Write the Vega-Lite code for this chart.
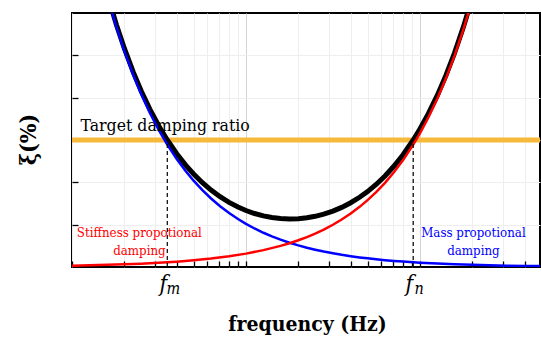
{
  "$schema": "https://vega.github.io/schema/vega-lite/v6.json",
  "width": 468,
  "height": 254,
  "autosize": "none",
  "padding": {"left": 72, "top": 13, "right": 1, "bottom": 76},
  "background": "white",
  "config": {
    "view": {"stroke": "black", "strokeWidth": 2},
    "axis": {"domain": false, "labels": false, "grid": true, "gridColor": "#eeeeee", "gridWidth": 1, "tickColor": "black", "tickWidth": 1.3, "tickSize": -6, "titleFont": "DejaVu Serif Condensed", "titleFontWeight": "bold", "titleColor": "black"}
  },
  "datasets": {
    "total": [
      {"f": 1.6, "xi": 6.424}, {"f": 1.8, "xi": 5.722}, {"f": 2, "xi": 5.162}, {"f": 2.25, "xi": 4.603},
      {"f": 2.5, "xi": 4.158}, {"f": 2.8, "xi": 3.730}, {"f": 3.15, "xi": 3.336}, {"f": 3.53, "xi": 3.0},
      {"f": 4, "xi": 2.675}, {"f": 4.5, "xi": 2.408}, {"f": 5, "xi": 2.197}, {"f": 5.6, "xi": 1.998},
      {"f": 6.3, "xi": 1.818}, {"f": 7.1, "xi": 1.660}, {"f": 8, "xi": 1.527}, {"f": 9, "xi": 1.417},
      {"f": 10, "xi": 1.335}, {"f": 11.2, "xi": 1.264}, {"f": 12.6, "xi": 1.207}, {"f": 14.1, "xi": 1.168},
      {"f": 15.8, "xi": 1.144}, {"f": 17.8, "xi": 1.135}, {"f": 20, "xi": 1.141}, {"f": 22.4, "xi": 1.162},
      {"f": 25, "xi": 1.197}, {"f": 28, "xi": 1.248}, {"f": 31.6, "xi": 1.320}, {"f": 35.5, "xi": 1.408},
      {"f": 40, "xi": 1.518}, {"f": 45, "xi": 1.647}, {"f": 50, "xi": 1.782}, {"f": 56, "xi": 1.950},
      {"f": 63, "xi": 2.151}, {"f": 71, "xi": 2.385}, {"f": 80, "xi": 2.653}, {"f": 91.5, "xi": 3.0},
      {"f": 100, "xi": 3.259}, {"f": 112, "xi": 3.627}, {"f": 126, "xi": 4.059}, {"f": 141, "xi": 4.524},
      {"f": 158, "xi": 5.053}, {"f": 178, "xi": 5.677}, {"f": 200, "xi": 6.365}
    ],
    "mass": [
      {"f": 1.6, "xi": 6.373}, {"f": 1.8, "xi": 5.665}, {"f": 2, "xi": 5.099}, {"f": 2.25, "xi": 4.532},
      {"f": 2.5, "xi": 4.079}, {"f": 2.8, "xi": 3.642}, {"f": 3.15, "xi": 3.237}, {"f": 3.53, "xi": 2.889},
      {"f": 4, "xi": 2.549}, {"f": 4.5, "xi": 2.266}, {"f": 5, "xi": 2.039}, {"f": 5.6, "xi": 1.821},
      {"f": 6.3, "xi": 1.619}, {"f": 7.1, "xi": 1.436}, {"f": 8, "xi": 1.275}, {"f": 9, "xi": 1.133},
      {"f": 10, "xi": 1.020}, {"f": 11.2, "xi": 0.910}, {"f": 12.6, "xi": 0.809}, {"f": 14.1, "xi": 0.723},
      {"f": 15.8, "xi": 0.645}, {"f": 17.8, "xi": 0.573}, {"f": 20, "xi": 0.510}, {"f": 22.4, "xi": 0.455},
      {"f": 25, "xi": 0.408}, {"f": 28, "xi": 0.364}, {"f": 31.6, "xi": 0.323}, {"f": 35.5, "xi": 0.287},
      {"f": 40, "xi": 0.255}, {"f": 45, "xi": 0.227}, {"f": 50, "xi": 0.204}, {"f": 56, "xi": 0.182},
      {"f": 63, "xi": 0.162}, {"f": 71, "xi": 0.144}, {"f": 80, "xi": 0.128}, {"f": 91.5, "xi": 0.111},
      {"f": 100, "xi": 0.102}, {"f": 126, "xi": 0.081}, {"f": 158, "xi": 0.065}, {"f": 200, "xi": 0.051},
      {"f": 250, "xi": 0.041}, {"f": 316, "xi": 0.032}, {"f": 400, "xi": 0.026}, {"f": 490, "xi": 0.021}
    ],
    "stiff": [
      {"f": 1, "xi": 0.032}, {"f": 1.26, "xi": 0.040}, {"f": 1.6, "xi": 0.051}, {"f": 2, "xi": 0.063},
      {"f": 2.5, "xi": 0.079}, {"f": 3.15, "xi": 0.099}, {"f": 3.53, "xi": 0.111}, {"f": 4, "xi": 0.126},
      {"f": 5, "xi": 0.158}, {"f": 6.3, "xi": 0.199}, {"f": 8, "xi": 0.253}, {"f": 10, "xi": 0.316},
      {"f": 12.6, "xi": 0.398}, {"f": 15.8, "xi": 0.499}, {"f": 17.8, "xi": 0.562}, {"f": 20, "xi": 0.631},
      {"f": 22.4, "xi": 0.707}, {"f": 25, "xi": 0.789}, {"f": 28, "xi": 0.884}, {"f": 31.6, "xi": 0.998},
      {"f": 35.5, "xi": 1.121}, {"f": 40, "xi": 1.263}, {"f": 45, "xi": 1.421}, {"f": 50, "xi": 1.579},
      {"f": 56, "xi": 1.768}, {"f": 63, "xi": 1.989}, {"f": 71, "xi": 2.242}, {"f": 80, "xi": 2.526},
      {"f": 91.5, "xi": 2.889}, {"f": 100, "xi": 3.157}, {"f": 112, "xi": 3.536}, {"f": 126, "xi": 3.978},
      {"f": 141, "xi": 4.451}, {"f": 158, "xi": 4.988}, {"f": 178, "xi": 5.619}, {"f": 200, "xi": 6.314},
      {"f": 224, "xi": 7.072}
    ],
    "marks": [
      {"f": 3.53, "lo": 0, "hi": 3, "sub": "m"},
      {"f": 91.5, "lo": 0, "hi": 3, "sub": "n"}
    ]
  },
  "layer": [
    {
      "data": {"values": [{"xi": 3}]},
      "mark": {"type": "rule", "color": "#F6B93B", "strokeWidth": 5},
      "encoding": {"y": {"field": "xi", "type": "quantitative"}}
    },
    {
      "data": {"name": "total"},
      "mark": {"type": "line", "color": "black", "strokeWidth": 5, "clip": true},
      "encoding": {
        "x": {"field": "f", "type": "quantitative", "scale": {"type": "log", "domain": [1, 490], "nice": false},
              "axis": {"title": "frequency (Hz)", "titleFontSize": 21, "titleBaseline": "alphabetic", "titleY": 63, "titleX": 235, "titleAnchor": "middle",
                       "gridColor": {"condition": {"test": "datum.value == 10 || datum.value == 100", "value": "#d4d4d4"}, "value": "#eeeeee"}}},
        "y": {"field": "xi", "type": "quantitative", "scale": {"domain": [0, 6], "nice": false},
              "axis": {"title": "ξ(%)", "values": [1, 2, 3, 4, 5], "titleFontSize": 23, "titleAngle": -90, "titleBaseline": "middle", "titleX": -44, "titleY": 126}}
      }
    },
    {
      "data": {"name": "mass"},
      "mark": {"type": "line", "color": "#0000FF", "strokeWidth": 2.5, "clip": true},
      "encoding": {"x": {"field": "f", "type": "quantitative"}, "y": {"field": "xi", "type": "quantitative"}}
    },
    {
      "data": {"name": "stiff"},
      "mark": {"type": "line", "color": "#FF0000", "strokeWidth": 2.5, "clip": true},
      "encoding": {"x": {"field": "f", "type": "quantitative"}, "y": {"field": "xi", "type": "quantitative"}}
    },
    {
      "data": {"name": "marks"},
      "mark": {"type": "rule", "color": "black", "strokeWidth": 1.2, "strokeDash": [4, 3]},
      "encoding": {"x": {"field": "f", "type": "quantitative"}, "y": {"field": "lo", "type": "quantitative"}, "y2": {"field": "hi"}}
    },
    {
      "data": {"name": "marks"},
      "mark": {"type": "text", "text": "f", "font": "DejaVu Serif Condensed", "fontStyle": "italic", "fontSize": 23, "dx": -4, "baseline": "alphabetic", "align": "center", "color": "black"},
      "encoding": {"x": {"field": "f", "type": "quantitative"}, "y": {"datum": -0.57}}
    },
    {
      "data": {"name": "marks"},
      "mark": {"type": "text", "font": "DejaVu Serif Condensed", "fontStyle": "italic", "fontSize": 16, "dx": 6, "dy": 3, "baseline": "alphabetic", "align": "center", "color": "black"},
      "encoding": {"x": {"field": "f", "type": "quantitative"}, "y": {"datum": -0.57}, "text": {"field": "sub"}}
    },
    {
      "data": {"values": [{"f": 1.12, "xi": 3.21, "t": "Target damping ratio"}]},
      "mark": {"type": "text", "font": "DejaVu Serif Condensed", "fontSize": 17.5, "align": "left", "baseline": "alphabetic", "color": "black"},
      "encoding": {"x": {"field": "f", "type": "quantitative"}, "y": {"field": "xi", "type": "quantitative"}, "text": {"field": "t"}}
    },
    {
      "data": {"values": [{"f": 2.44, "xi": 0.72, "t": "Stiffness propotional\ndamping"}]},
      "mark": {"type": "text", "font": "DejaVu Serif Condensed", "fontSize": 13.2, "align": "center", "baseline": "alphabetic", "lineBreak": "\n", "lineHeight": 18, "color": "#FF0000"},
      "encoding": {"x": {"field": "f", "type": "quantitative"}, "y": {"field": "xi", "type": "quantitative"}, "text": {"field": "t"}}
    },
    {
      "data": {"values": [{"f": 203, "xi": 0.70, "t": "Mass propotional\ndamping"}]},
      "mark": {"type": "text", "font": "DejaVu Serif Condensed", "fontSize": 13.2, "align": "center", "baseline": "alphabetic", "lineBreak": "\n", "lineHeight": 18, "color": "#0000FF"},
      "encoding": {"x": {"field": "f", "type": "quantitative"}, "y": {"field": "xi", "type": "quantitative"}, "text": {"field": "t"}}
    }
  ]
}
